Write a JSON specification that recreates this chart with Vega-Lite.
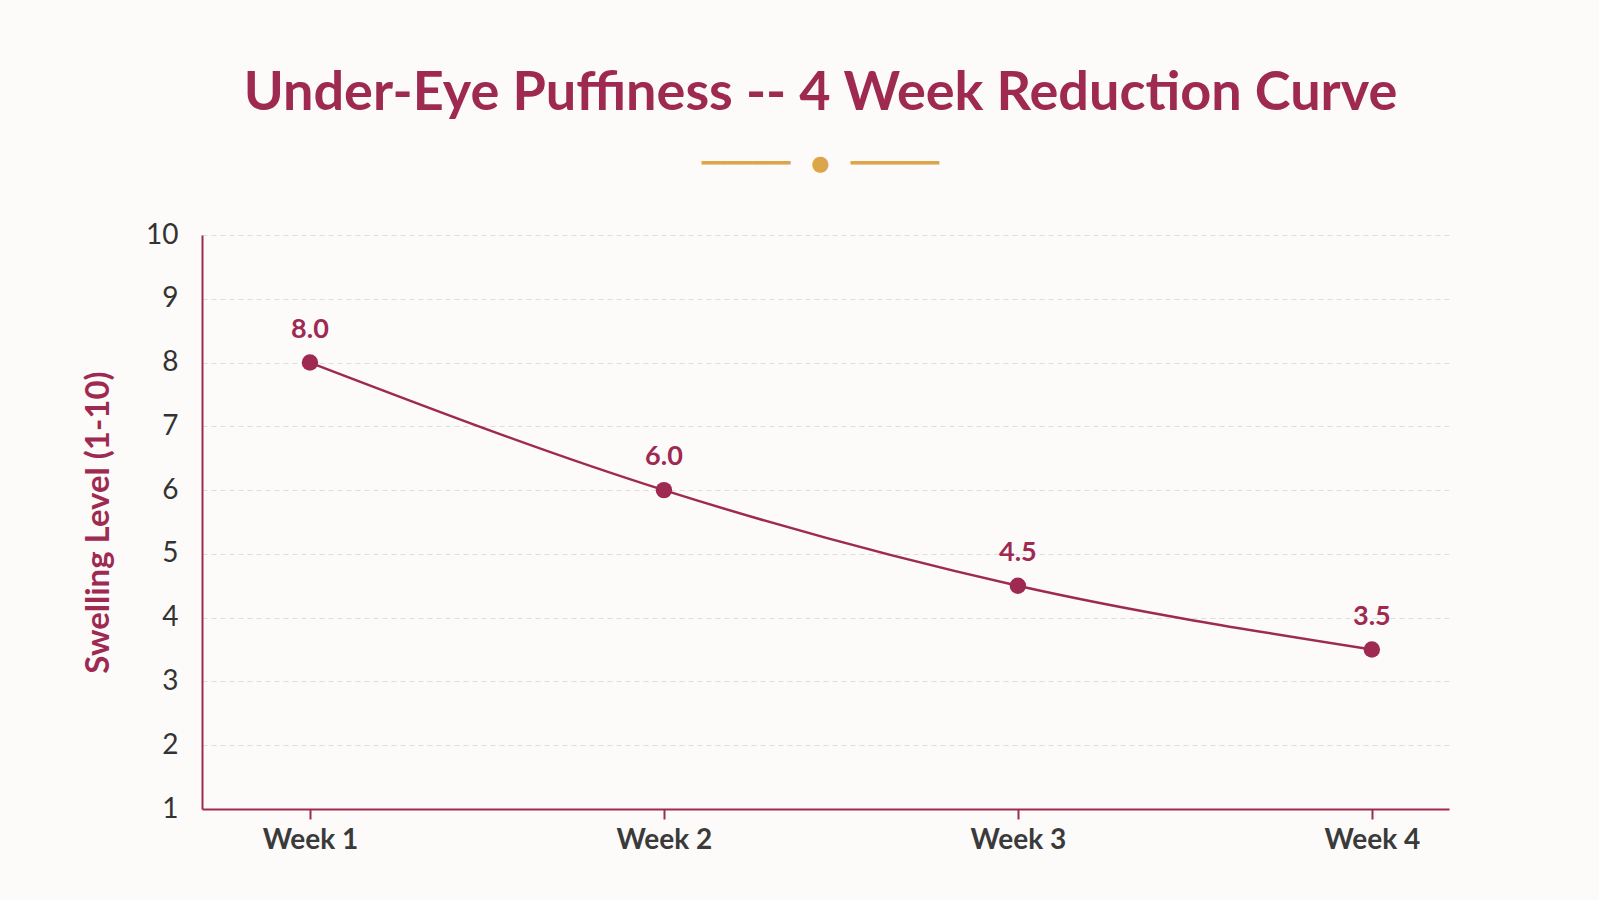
{
  "$schema": "https://vega.github.io/schema/vega-lite/v6.json",
  "autosize": "none",
  "width": 1247,
  "height": 574,
  "padding": {"left": 202, "top": 235, "right": 150, "bottom": 91},
  "background": "#FCFBFA",
  "title": {
    "text": "Under-Eye Puffiness -- 4 Week Reduction Curve",
    "subtitle": "\u2501\u2501\u2501\u2501\u2501\u2501\u2501\u2003\u25CF\u2003\u2501\u2501\u2501\u2501\u2501\u2501\u2501",
    "anchor": "middle",
    "frame": "group",
    "dx": -5,
    "font": "Lato",
    "fontSize": 54,
    "fontWeight": "bold",
    "color": "#9E2A52",
    "subtitleFont": "DejaVu Sans",
    "subtitleFontSize": 21,
    "subtitleColor": "#DDA54A",
    "subtitlePadding": 32,
    "offset": 47
  },
  "data": {
    "values": [
      {"week": 1, "swelling": 8.0},
      {"week": 2, "swelling": 6.0},
      {"week": 3, "swelling": 4.5},
      {"week": 4, "swelling": 3.5}
    ]
  },
  "encoding": {
    "x": {
      "field": "week",
      "type": "quantitative",
      "scale": {"domain": [0.695, 4.218], "nice": false, "zero": false},
      "axis": {
        "title": null,
        "values": [1, 2, 3, 4],
        "labelExpr": "'Week ' + datum.value",
        "grid": false,
        "domainColor": "#9E2A52",
        "domainWidth": 2,
        "tickColor": "#9E2A52",
        "tickWidth": 2,
        "tickSize": 10,
        "labelPadding": 7,
        "labelFont": "Lato",
        "labelFontSize": 28,
        "labelFontWeight": "bold",
        "labelColor": "#3A3A3A"
      }
    },
    "y": {
      "field": "swelling",
      "type": "quantitative",
      "scale": {"domain": [1, 10], "nice": false, "zero": false},
      "axis": {
        "title": "Swelling Level (1-10)",
        "titleFont": "Lato",
        "titleFontSize": 33,
        "titleFontWeight": "bold",
        "titleColor": "#9E2A52",
        "titlePadding": 30,
        "values": [1, 2, 3, 4, 5, 6, 7, 8, 9, 10],
        "ticks": false,
        "labelPadding": 24,
        "labelFont": "Lato",
        "labelFontSize": 28,
        "labelColor": "#333333",
        "domainColor": "#9E2A52",
        "domainWidth": 2,
        "grid": true,
        "gridColor": "#DDDDDD",
        "gridDash": [5, 4],
        "gridWidth": 1
      }
    }
  },
  "layer": [
    {
      "mark": {"type": "line", "interpolate": "monotone", "color": "#9E2A52", "strokeWidth": 2.5}
    },
    {
      "mark": {"type": "point", "filled": true, "opacity": 1, "color": "#9E2A52", "size": 270}
    },
    {
      "mark": {"type": "text", "dy": -33, "font": "Lato", "fontSize": 27, "fontWeight": "bold", "color": "#9E2A52"},
      "encoding": {"text": {"field": "swelling", "type": "quantitative", "format": ".1f"}}
    }
  ],
  "config": {"view": {"stroke": null}}
}
